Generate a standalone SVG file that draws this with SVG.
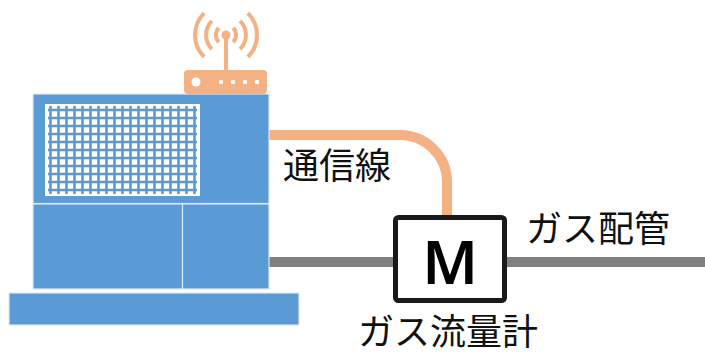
<svg xmlns="http://www.w3.org/2000/svg" width="705" height="356" viewBox="0 0 705 356">
  <style>
    .unit { fill: #5B9BD5; stroke: #DCE9F6; stroke-width: 1.2; }
    .grid line { stroke: #5B9BD5; stroke-width: 2.6; }
    .router { fill: #F4B183; }
    .wave { fill: none; stroke: #F4B183; stroke-width: 4; }
    .label { font-family: "Noto Sans CJK JP", "Noto Sans", sans-serif; font-size: 36px; fill: #111; }
    .pipe { fill: #808080; }
    .cable { fill: none; stroke: #F4B183; stroke-width: 10; }
  </style>

  <!-- connectors: gas pipe and communication cable -->
  <g id="connectors">
    <rect class="pipe" x="269" y="257" width="128" height="10"/>
    <rect class="pipe" x="503" y="257" width="202" height="10"/>
    <path class="cable" d="M269,135 H400 A47,47 0 0 1 447,182 V217"/>
  </g>

  <!-- gas appliance unit -->
  <g id="appliance">
    <rect class="unit" x="33" y="94" width="236" height="109.5"/>
    <rect class="unit" x="33" y="204" width="149.5" height="85"/>
    <rect class="unit" x="182.5" y="204" width="86.5" height="85"/>
    <rect class="unit" x="9" y="293" width="290" height="32"/>
    <!-- front grille panel -->
    <rect x="45" y="104" width="155" height="92" fill="#fff"/>
    <g class="grid">
      <line x1="50.5" y1="106" x2="50.5" y2="194"/>
      <line x1="58.5" y1="106" x2="58.5" y2="194"/>
      <line x1="66.5" y1="106" x2="66.5" y2="194"/>
      <line x1="74.5" y1="106" x2="74.5" y2="194"/>
      <line x1="82.5" y1="106" x2="82.5" y2="194"/>
      <line x1="90.5" y1="106" x2="90.5" y2="194"/>
      <line x1="98.5" y1="106" x2="98.5" y2="194"/>
      <line x1="106.5" y1="106" x2="106.5" y2="194"/>
      <line x1="114.5" y1="106" x2="114.5" y2="194"/>
      <line x1="122.5" y1="106" x2="122.5" y2="194"/>
      <line x1="130.5" y1="106" x2="130.5" y2="194"/>
      <line x1="138.5" y1="106" x2="138.5" y2="194"/>
      <line x1="146.5" y1="106" x2="146.5" y2="194"/>
      <line x1="154.5" y1="106" x2="154.5" y2="194"/>
      <line x1="162.5" y1="106" x2="162.5" y2="194"/>
      <line x1="170.5" y1="106" x2="170.5" y2="194"/>
      <line x1="178.5" y1="106" x2="178.5" y2="194"/>
      <line x1="186.5" y1="106" x2="186.5" y2="194"/>
      <line x1="194.5" y1="106" x2="194.5" y2="194"/>
      <line x1="48" y1="110" x2="197" y2="110"/>
      <line x1="48" y1="118" x2="197" y2="118"/>
      <line x1="48" y1="126" x2="197" y2="126"/>
      <line x1="48" y1="134" x2="197" y2="134"/>
      <line x1="48" y1="142" x2="197" y2="142"/>
      <line x1="48" y1="150" x2="197" y2="150"/>
      <line x1="48" y1="158" x2="197" y2="158"/>
      <line x1="48" y1="166" x2="197" y2="166"/>
      <line x1="48" y1="174" x2="197" y2="174"/>
      <line x1="48" y1="182" x2="197" y2="182"/>
      <line x1="48" y1="190" x2="197" y2="190"/>
    </g>
  </g>

  <!-- wireless router on top of the unit -->
  <g id="router">
    <rect class="router" x="184" y="70" width="83" height="24" rx="4"/>
    <circle cx="196" cy="82" r="4.5" fill="#fff"/>
    <circle cx="221" cy="82" r="2.2" fill="#fff"/>
    <circle cx="233" cy="82" r="2.2" fill="#fff"/>
    <circle cx="245" cy="82" r="2.2" fill="#fff"/>
    <circle cx="257" cy="82" r="2.2" fill="#fff"/>
    <rect class="router" x="224" y="35" width="4" height="36"/>
    <circle class="router" cx="226" cy="35" r="4.5"/>
    <path class="wave" d="M218.9,27.9 A10,10 0 0 0 218.9,42.1"/>
    <path class="wave" d="M233.1,27.9 A10,10 0 0 1 233.1,42.1"/>
    <path class="wave" d="M211.9,20.9 A20,20 0 0 0 211.9,49.1"/>
    <path class="wave" d="M240.1,20.9 A20,20 0 0 1 240.1,49.1"/>
    <path class="wave" d="M204.1,13.1 A31,31 0 0 0 204.1,56.9"/>
    <path class="wave" d="M247.9,13.1 A31,31 0 0 1 247.9,56.9"/>
  </g>

  <!-- gas meter -->
  <g id="meter">
    <rect x="395.5" y="217.5" width="109" height="83" rx="3" fill="#fff" stroke="#1a1a1a" stroke-width="5"/>
    <text x="450" y="284" text-anchor="middle" font-family="'Noto Sans', sans-serif" font-size="60" font-weight="600" fill="#000">M</text>
  </g>

  <!-- labels -->
  <g id="label-cable"><text class="label" x="283" y="179">通信線</text></g>
  <g id="label-pipe"><text class="label" x="526" y="242">ガス配管</text></g>
  <g id="label-meter"><text class="label" x="358" y="345">ガス流量計</text></g>
</svg>
